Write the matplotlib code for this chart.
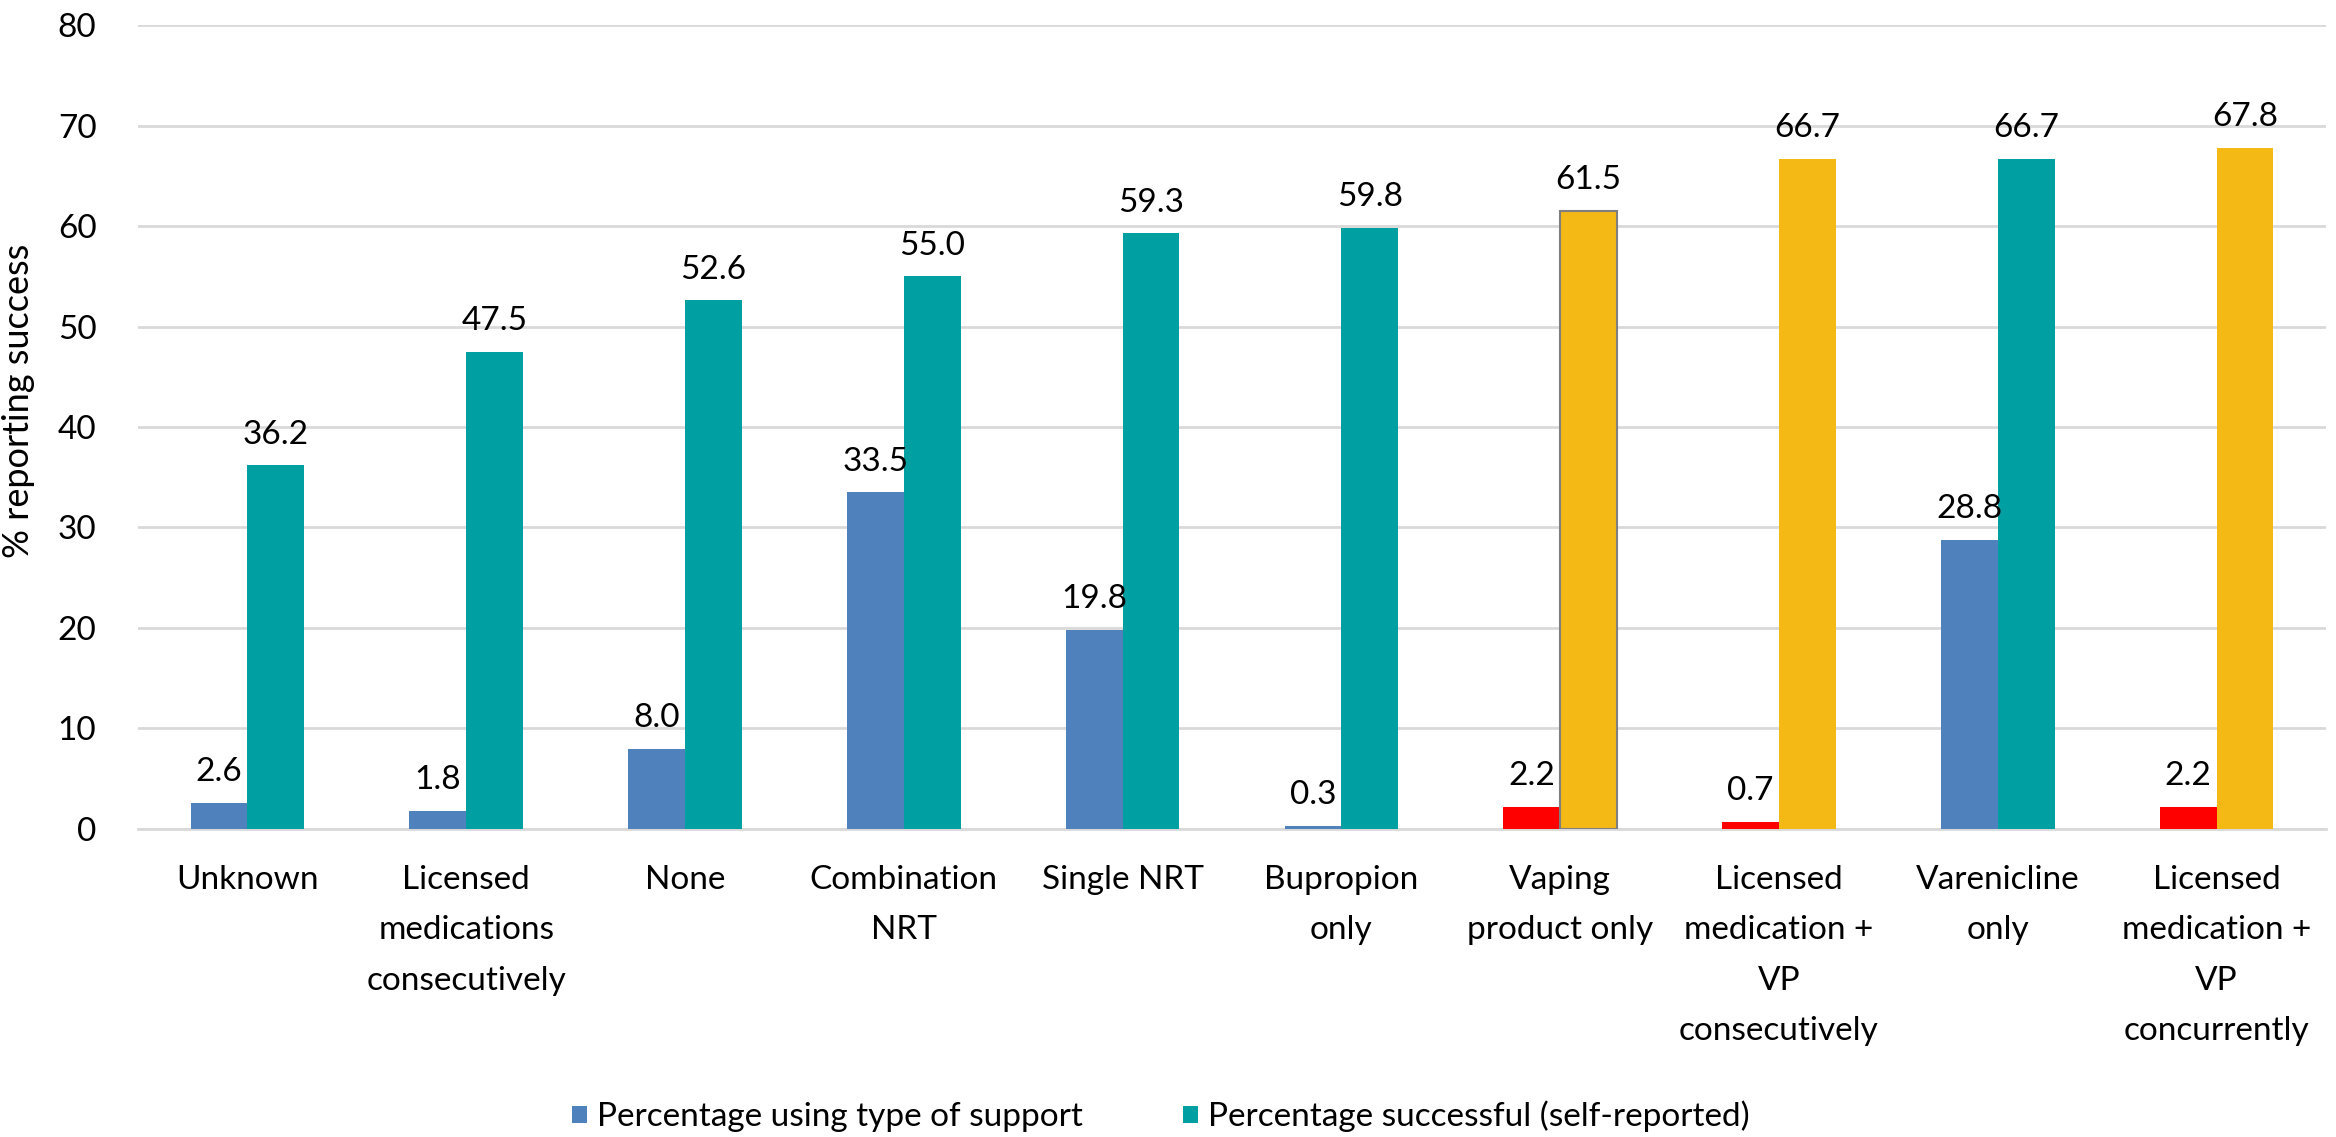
import matplotlib
matplotlib.use("Agg")
import matplotlib.pyplot as plt
from matplotlib.patches import Patch
import numpy as np

plt.rcParams['font.family'] = ['Lato', 'DejaVu Sans']

categories = [
    "Unknown",
    "Licensed\nmedications\nconsecutively",
    "None",
    "Combination\nNRT",
    "Single NRT",
    "Bupropion\nonly",
    "Vaping\nproduct only",
    "Licensed\nmedication +\nVP\nconsecutively",
    "Varenicline\nonly",
    "Licensed\nmedication +\nVP\nconcurrently",
]
pct_using = [2.6, 1.8, 8.0, 33.5, 19.8, 0.3, 2.2, 0.7, 28.8, 2.2]
pct_success = [36.2, 47.5, 52.6, 55.0, 59.3, 59.8, 61.5, 66.7, 66.7, 67.8]
involves_vaping = [False, False, False, False, False, False, True, True, False, True]

series_names = ["Percentage using type of support",
                "Percentage successful (self-reported)"]

BLUE = "#4F81BD"
TEAL = "#009FA2"
RED = "#FF0000"
GOLD = "#F4B914"
GRID = "#D9D9D9"

FS = 24

fig = plt.figure(figsize=(23.36, 11.37), dpi=100)
ax = fig.add_axes([0.0591, 0.2709, 0.9366, 0.7071])

x = np.arange(len(categories))
w = 0.26
use_colors = [RED if v else BLUE for v in involves_vaping]
succ_colors = [GOLD if v else TEAL for v in involves_vaping]

bars_use = ax.bar(x - w / 2, pct_using, w, color=use_colors, zorder=3)
bars_succ = ax.bar(x + w / 2, pct_success, w, color=succ_colors, zorder=3)
# outlined bar for the vaping-only group
bars_succ[6].set_edgecolor("#7F7F7F")
bars_succ[6].set_linewidth(1.5)

for bars, vals in ((bars_use, pct_using), (bars_succ, pct_success)):
    for b, v in zip(bars, vals):
        ax.annotate(f"{v:.1f}", (b.get_x() + b.get_width() / 2, v),
                    xytext=(0, 15.5), textcoords="offset points",
                    ha="center", va="baseline", fontsize=FS, color="black",
                    zorder=4)

ax.set_xlim(-0.5, len(categories) - 0.5)
ax.set_ylim(0, 80)
ax.set_yticks(np.arange(0, 81, 10))
ax.yaxis.grid(True, color=GRID, linewidth=2)
ax.set_axisbelow(True)
for s in ("top", "right", "left"):
    ax.spines[s].set_visible(False)
ax.spines["bottom"].set_color(GRID)
ax.spines["bottom"].set_linewidth(2)

ax.set_xticks(x)
ax.set_xticklabels(categories, fontsize=FS, linespacing=1.85)
ax.tick_params(axis="x", length=0, pad=26)
ax.tick_params(axis="y", length=0, pad=30, labelsize=FS)

ax.set_ylabel("% reporting success", fontsize=26)
ax.yaxis.set_label_coords(-0.047, 0.533)

handles = [Patch(facecolor=BLUE), Patch(facecolor=TEAL)]
fig.legend(handles, series_names, loc="center", bbox_to_anchor=(0.497, 0.018),
           ncol=2, frameon=False, fontsize=FS, handlelength=0.45,
           handleheight=0.45, handletextpad=0.3, columnspacing=3.0)

fig.savefig("out.png", dpi=100)
